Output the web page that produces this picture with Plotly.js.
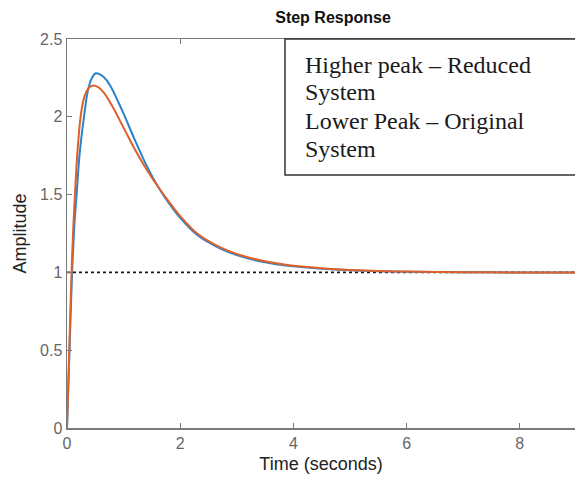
<!DOCTYPE html>
<html>
<head>
<meta charset="utf-8">
<script src="https://cdn.plot.ly/plotly-3.0.1.min.js"></script>
<style>
  html, body { margin: 0; padding: 0; background: #fff; }
  #chart { width: 575px; height: 481px; }
</style>
</head>
<body>
<div id="chart"></div>
<script>
// Step response of the reduced model (higher peak)
const reducedTime = [0, 0.04, 0.09, 0.13, 0.17, 0.22, 0.30, 0.37, 0.44, 0.51, 0.6, 0.7, 0.8, 0.9, 1.0, 1.2, 1.4, 1.6, 1.8, 2.0, 2.3, 2.7, 3.1, 3.5, 3.9, 4.5, 5.0, 5.5, 6.0, 7.0, 8.0, 9.0];
const reducedAmp  = [0, 0.45, 1.0, 1.3, 1.5, 1.75, 2.0, 2.17, 2.25, 2.28, 2.27, 2.235, 2.175, 2.10, 2.02, 1.85, 1.69, 1.555, 1.445, 1.35, 1.24, 1.155, 1.10, 1.065, 1.042, 1.024, 1.014, 1.008, 1.004, 1.001, 1.0, 1.0];

// Step response of the original model (lower peak)
const originalTime = [0, 0.04, 0.08, 0.11, 0.14, 0.18, 0.24, 0.30, 0.37, 0.45, 0.55, 0.65, 0.75, 0.85, 0.95, 1.05, 1.2, 1.4, 1.6, 1.8, 2.0, 2.3, 2.7, 3.1, 3.5, 3.9, 4.5, 5.0, 5.5, 6.0, 7.0, 8.0, 9.0];
const originalAmp  = [0, 0.5, 1.0, 1.28, 1.5, 1.75, 2.0, 2.12, 2.18, 2.20, 2.19, 2.155, 2.10, 2.035, 1.965, 1.895, 1.79, 1.665, 1.555, 1.455, 1.362, 1.25, 1.163, 1.107, 1.071, 1.047, 1.027, 1.016, 1.009, 1.005, 1.001, 1.0, 1.0];

// Steady-state reference level
const steadyTime = [0, 9];
const steadyAmp  = [1, 1];

const xTicks = [0, 2, 4, 6, 8];
const yTicks = [0, 0.5, 1, 1.5, 2, 2.5];
const yTickText = ['0', '0.5', '1', '1.5', '2', '2.5'];

const noteLines = ['Higher peak \u2013 Reduced', 'System', 'Lower Peak \u2013 Original', 'System'];

const traces = [
  {
    x: steadyTime, y: steadyAmp, mode: 'lines', hoverinfo: 'skip',
    line: { color: '#1a1a1a', width: 1.6, dash: 'dot' }
  },
  {
    x: reducedTime, y: reducedAmp, mode: 'lines', name: 'Reduced',
    line: { color: '#2a84cc', width: 2, shape: 'spline', smoothing: 0.8 }
  },
  {
    x: originalTime, y: originalAmp, mode: 'lines', name: 'Original',
    line: { color: '#e0602a', width: 2, shape: 'spline', smoothing: 0.8 }
  }
];

// Pixel helpers for placing the note box inside the plot area
const plotLeft = 67, plotWidth = 508, plotBottom = 428, plotHeight = 389;
const px = v => (v - plotLeft) / plotWidth;
const py = v => (plotBottom - v) / plotHeight;

const lineCentres = [64.5, 92.5, 120.5, 148.5];
const noteAnnotations = noteLines.map((txt, i) => ({
  xref: 'paper', yref: 'paper',
  x: px(304), y: py(lineCentres[i]),
  xanchor: 'left', yanchor: 'middle', align: 'left', showarrow: false,
  borderpad: 0,
  text: txt,
  font: { family: 'Liberation Serif, Times New Roman, serif', size: 24, color: '#1a1a1a' }
}));

const layout = {
  width: 575, height: 481,
  margin: { l: 67, r: 0, t: 39, b: 53 },
  paper_bgcolor: '#fff', plot_bgcolor: '#fff',
  showlegend: false,
  font: { family: 'Liberation Sans, Arial, sans-serif', color: '#555' },
  title: {
    text: '<b>Step Response</b>',
    font: { family: 'Liberation Sans, Arial, sans-serif', size: 16, color: '#111' },
    x: 333 / 575, xref: 'container', xanchor: 'center',
    y: 1 - 17 / 481, yref: 'container', yanchor: 'middle'
  },
  xaxis: {
    range: [0, 8.975], tickvals: xTicks, ticktext: xTicks.map(String),
    showgrid: false, zeroline: false,
    showline: true, linecolor: '#7a7a7a', linewidth: 1.5, mirror: 'ticks',
    ticks: 'inside', ticklen: 5, tickwidth: 1.2, tickcolor: '#7a7a7a',
    tickfont: { size: 16, color: '#666' },
    title: { text: 'Time (seconds)', font: { size: 18, color: '#222' }, standoff: 6 }
  },
  yaxis: {
    range: [0, 2.5], tickvals: yTicks, ticktext: yTickText,
    showgrid: false, zeroline: false,
    showline: true, linecolor: '#7a7a7a', linewidth: 1.5, mirror: false,
    ticks: 'inside', ticklen: 5, tickwidth: 1.2, tickcolor: '#7a7a7a',
    tickfont: { size: 16, color: '#666' },
    title: { text: 'Amplitude', font: { size: 18, color: '#222' }, standoff: 8 }
  },
  shapes: [
    {
      type: 'rect', xref: 'paper', yref: 'paper',
      x0: px(285), x1: 1.05, y0: py(175), y1: 1.0,
      line: { color: '#333', width: 1.5 }, fillcolor: '#fff', layer: 'above'
    }
  ],
  annotations: noteAnnotations
};

Plotly.newPlot('chart', traces, layout, { staticPlot: true, displayModeBar: false });
</script>
</body>
</html>
